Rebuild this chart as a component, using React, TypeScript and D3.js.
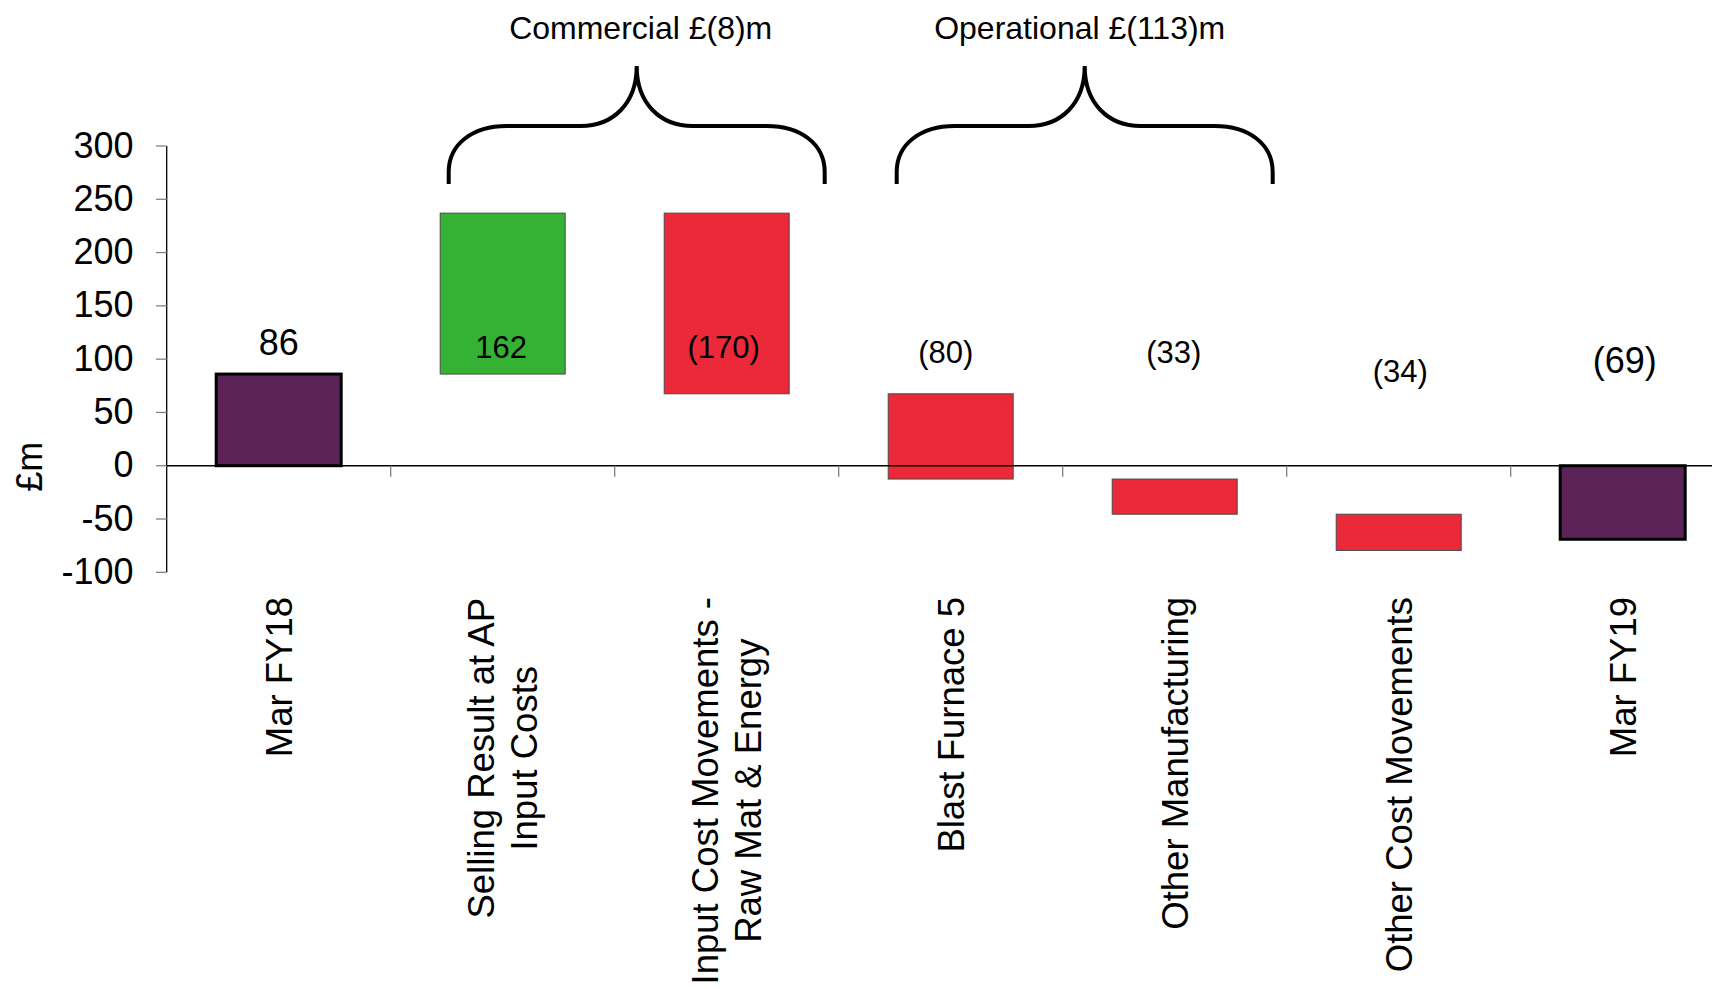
import React from "react";
import * as d3 from "d3";

// ---------- data ----------
const categories: string[][] = [
  ["Mar FY18"],
  ["Selling Result at AP", "Input Costs"],
  ["Input Cost Movements -", "Raw Mat & Energy"],
  ["Blast Furnace 5"],
  ["Other Manufacturing"],
  ["Other Cost Movements"],
  ["Mar FY19"],
];
const barStart: number[] = [0, 86, 237, 67.5, -12.5, -45.5, 0];
const barEnd: number[] = [86, 237, 67.5, -12.5, -45.5, -79.5, -69];
const valueLabels: string[] = ["86", "162", "(170)", "(80)", "(33)", "(34)", "(69)"];
const barKind: string[] = ["total", "up", "down", "down", "down", "down", "total"];
const yTicks: number[] = [300, 250, 200, 150, 100, 50, 0, -50, -100];
const groupLabels: string[] = ["Commercial £(8)m", "Operational £(113)m"];
const groupFrom: number[] = [1, 3];
const groupTo: number[] = [2, 4];

// ---------- presentation ----------
const W = 1712;
const H = 989;
const FONT = "'Liberation Sans', Arial, Helvetica, sans-serif";
const COLORS: Record<string, string> = { total: "#5B2357", up: "#35B234", down: "#EC2939" };
const labelAt = [103.9, 100.8, 100.8, 96.7, 96.7, 78.8, 86.7];
const labelSize = [36, 31, 31, 31, 31, 31, 36];
const labelDx = [0, -1.5, -3, -5, -1, 1.5, 2];
const groupDx = [4, -5];

function measure(text: string, size: number): number {
  const c = document.createElement("canvas").getContext("2d");
  if (!c) return text.length * size * 0.5;
  c.font = `${size}px 'Liberation Sans', Arial, sans-serif`;
  return c.measureText(text).width;
}

export default function App() {
  const x0 = 166.7;
  const step = 224;
  const n = categories.length;
  const idx = categories.map((_, i) => String(i));
  const x = d3
    .scaleBand<string>()
    .domain(idx)
    .range([x0, x0 + step * n])
    .paddingInner(1 - 125 / 224)
    .paddingOuter((1 - 125 / 224) / 2);
  const y = d3.scaleLinear().domain([-100, 300]).range([572.3, 146]);

  const catFont = 36.5;
  const lineGap = 43;
  const labelTop = 597;

  const bracePath = (from: number, to: number) => {
    const a = (x(String(from)) as number) - (x.step() * x.paddingOuter()) + 58;
    const b = (x(String(to)) as number) + x.bandwidth() + x.step() * x.paddingOuter() - 14;
    const c = (a + b) / 2;
    const yb = 184, yh = 126, yt = 66;
    const p = d3.path();
    p.moveTo(a, yb);
    p.lineTo(a, 172);
    p.bezierCurveTo(a, 144, a + 24, yh, a + 58, yh);
    p.lineTo(c - 56, yh);
    p.bezierCurveTo(c - 24, yh, c, 104, c, yt);
    p.bezierCurveTo(c, 104, c + 24, yh, c + 56, yh);
    p.lineTo(b - 58, yh);
    p.bezierCurveTo(b - 24, yh, b, 144, b, 172);
    p.lineTo(b, yb);
    return { d: p.toString(), c };
  };

  return (
    <div>
      <style>{`body{margin:0;background:#fff}`}</style>
      <svg width={W} height={H} style={{ display: "block" }} fontFamily={FONT}>
        {/* bars */}
        {categories.map((_, i) => {
          const top = Math.max(barStart[i], barEnd[i]);
          const bot = Math.min(barStart[i], barEnd[i]);
          const total = barKind[i] === "total";
          return (
            <rect
              key={"b" + i}
              x={x(String(i))}
              y={y(top)}
              width={x.bandwidth()}
              height={y(bot) - y(top)}
              fill={COLORS[barKind[i]]}
              stroke={total ? "#000" : "#4a4a4a"}
              strokeWidth={total ? 3 : 1}
            />
          );
        })}

        {/* zero line */}
        <line x1={x0} x2={W} y1={y(0)} y2={y(0)} stroke="#000" strokeWidth={1.3} />
        {/* category boundary ticks */}
        {d3.range(1, n + 1).map((k) => (
          <line
            key={"xt" + k}
            x1={x0 + k * x.step()}
            x2={x0 + k * x.step()}
            y1={y(0)}
            y2={y(0) + 11}
            stroke="#808080"
            strokeWidth={1.3}
          />
        ))}

        {/* y axis */}
        <line x1={x0} x2={x0} y1={y(300)} y2={y(-100)} stroke="#000" strokeWidth={1.3} />
        {yTicks.map((t) => (
          <g key={"yt" + t}>
            <line x1={156} x2={x0} y1={y(t)} y2={y(t)} stroke="#808080" strokeWidth={1.3} />
            <text x={133.5} y={y(t)} dy="0.32em" textAnchor="end" fontSize={36} fill="#000">
              {t}
            </text>
          </g>
        ))}
        <text
          transform={`translate(41.5,${y(0) + 1}) rotate(-90)`}
          textAnchor="middle"
          fontSize={36}
          fill="#000"
        >
          £m
        </text>

        {/* value labels */}
        {valueLabels.map((v, i) => (
          <text
            key={"v" + i}
            x={(x(String(i)) as number) + x.bandwidth() / 2 + labelDx[i]}
            y={y(labelAt[i])}
            textAnchor="middle"
            fontSize={labelSize[i]}
            fill="#000"
          >
            {v}
          </text>
        ))}

        {/* category labels */}
        {categories.map((lines, i) => {
          const cx = (x(String(i)) as number) + x.bandwidth() / 2;
          const maxLen = Math.max(...lines.map((l) => measure(l, catFont)));
          const cy = labelTop + maxLen / 2;
          const capHalf = catFont * 0.716 / 2;
          return (
            <g key={"c" + i}>
              {lines.map((l, j) => {
                const off = (j - (lines.length - 1) / 2) * lineGap + capHalf;
                return (
                  <text
                    key={j}
                    transform={`translate(${cx + off},${cy}) rotate(-90)`}
                    textAnchor="middle"
                    fontSize={catFont}
                    fill="#000"
                  >
                    {l}
                  </text>
                );
              })}
            </g>
          );
        })}

        {/* group braces */}
        {groupLabels.map((g, k) => {
          const br = bracePath(groupFrom[k], groupTo[k]);
          return (
            <g key={"g" + k}>
              <path d={br.d} fill="none" stroke="#000" strokeWidth={4} />
              <text x={br.c + groupDx[k]} y={39} textAnchor="middle" fontSize={32} fill="#000">
                {g}
              </text>
            </g>
          );
        })}
      </svg>
    </div>
  );
}
